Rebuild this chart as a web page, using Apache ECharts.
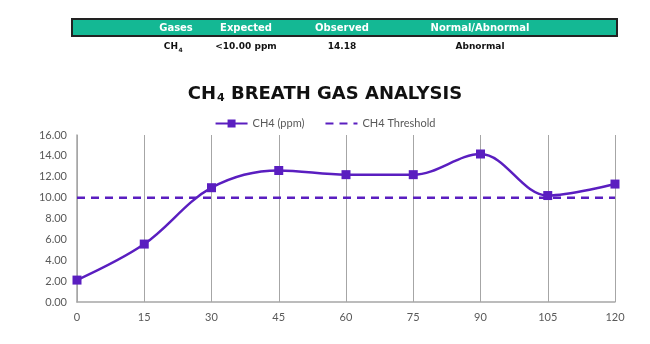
<!DOCTYPE html>
<html>
<head>
<meta charset="utf-8">
<style>
  html, body { margin: 0; padding: 0; background: #ffffff; }
  #chart { width: 650px; height: 344px; }
</style>
<script src="https://cdn.jsdelivr.net/npm/echarts@6/dist/echarts.min.js"></script>
</head>
<body>
<div id="chart"></div>
<script>
// Sampling times (minutes) and measured CH4 (ppm)
const times = [0, 15, 30, 45, 60, 75, 90, 105, 120];
const ch4Values = [2.10, 5.55, 10.95, 12.60, 12.20, 12.20, 14.18, 10.20, 11.30];
const thresholdValue = 10.00;
const thresholdValues = times.map(() => thresholdValue);

// Summary table
const tableHeaders = ['Gases', 'Expected', 'Observed', 'Normal/Abnormal'];
const tableRow = ['CH4', '<10.00 ppm', '14.18', 'Abnormal'];
const columnCenters = [176, 246, 342, 480];

const purple = '#5a1ec0';
const axisGray = '#a6a6a6';
const textGray = '#595959';
const fontFamily = 'Lato, "Open Sans", sans-serif';
const wideFont = '"DejaVu Sans", sans-serif';

const chart = echarts.init(document.getElementById('chart'));

const graphics = [
  {
    type: 'rect',
    shape: { x: 72, y: 19, width: 545, height: 17 },
    style: { fill: '#14b894', stroke: '#222222', lineWidth: 2 }
  }
];
tableHeaders.forEach((t, i) => {
  graphics.push({
    type: 'text',
    x: columnCenters[i], y: 28,
    style: {
      text: t, fill: '#ffffff', font: 'bold 10px ' + wideFont,
      align: 'center', verticalAlign: 'middle'
    }
  });
});
tableRow.forEach((t, i) => {
  if (t === 'CH4') {
    graphics.push({
      type: 'text', x: columnCenters[i] + 2, y: 47,
      style: { text: 'CH', fill: '#111111', font: 'bold 9px ' + wideFont, align: 'right', verticalAlign: 'middle' }
    });
    graphics.push({
      type: 'text', x: columnCenters[i] + 2.5, y: 50,
      style: { text: '4', fill: '#111111', font: 'bold 6px ' + wideFont, align: 'left', verticalAlign: 'middle' }
    });
  } else {
    graphics.push({
      type: 'text', x: columnCenters[i], y: 47,
      style: { text: t, fill: '#111111', font: 'bold 9px ' + wideFont, align: 'center', verticalAlign: 'middle' }
    });
  }
});

const option = {
  backgroundColor: '#ffffff',
  animation: false,
  title: {
    text: '{a|CH}{s|4}{a| BREATH GAS ANALYSIS}',
    left: 'center',
    top: 80,
    textStyle: {
      rich: {
        a: { fontFamily: wideFont, fontWeight: 'bold', fontSize: 18, color: '#111111' },
        s: { fontFamily: wideFont, fontWeight: 'bold', fontSize: 11, color: '#111111', verticalAlign: 'bottom', padding: [8, 0, 0, 1] }
      }
    }
  },
  legend: {
    top: 113,
    left: 'center',
    itemWidth: 32,
    itemHeight: 10,
    itemGap: 20,
    textStyle: { fontFamily: fontFamily, fontSize: 11, color: textGray },
    data: [
      { name: 'CH4 (ppm)' },
      // dashed line only, no marker
      { name: 'CH4 Threshold', itemStyle: { color: 'rgba(0,0,0,0)', borderWidth: 0, opacity: 0 } }
    ]
  },
  grid: { left: 77, right: 35, top: 135, bottom: 42, containLabel: false },
  xAxis: {
    type: 'value',
    min: 0, max: 120, interval: 15,
    axisLine: { show: true, lineStyle: { color: axisGray, width: 1.5 } },
    axisTick: { show: false },
    axisLabel: { color: textGray, fontFamily: fontFamily, fontSize: 11, margin: 10 },
    splitLine: { show: true, lineStyle: { color: axisGray, width: 1 } }
  },
  yAxis: {
    type: 'value',
    min: 0, max: 16, interval: 2,
    axisLine: { show: true, lineStyle: { color: axisGray, width: 1.5 } },
    axisTick: { show: false },
    axisLabel: {
      color: textGray, fontFamily: fontFamily, fontSize: 11, margin: 10,
      formatter: v => v.toFixed(2)
    },
    splitLine: { show: false }
  },
  series: [
    {
      name: 'CH4 (ppm)',
      type: 'line',
      data: times.map((t, i) => [t, ch4Values[i]]),
      smooth: 0.35,
      symbol: 'rect',
      symbolSize: 9,
      itemStyle: { color: purple },
      lineStyle: { color: purple, width: 2.5 },
      z: 3
    },
    {
      name: 'CH4 Threshold',
      type: 'line',
      data: times.map((t, i) => [t, thresholdValues[i]]),
      symbol: 'none',
      itemStyle: { color: purple },
      lineStyle: { color: purple, width: 2.5, type: [8, 6] },
      z: 2
    }
  ],
  graphic: graphics
};

chart.setOption(option);
</script>
</body>
</html>
